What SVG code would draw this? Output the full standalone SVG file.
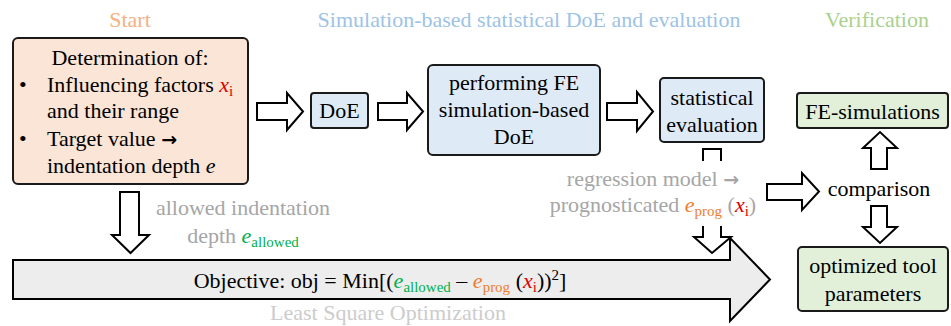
<svg xmlns="http://www.w3.org/2000/svg" width="951" height="326" viewBox="0 0 951 326">
<style>
text{font-family:"Liberation Serif",serif;font-size:22px;fill:#000}
.box{stroke:#1a1a1a;stroke-width:2}
.arr{fill:#fff;stroke:#000;stroke-width:2;stroke-linejoin:miter}
.open{fill:none;stroke:#000;stroke-width:2}
.mid{text-anchor:middle}
.gray{fill:#a6a6a6}
.lgray{fill:#cccccc}
.red{fill:#e00000}
.grn{fill:#00b050}
.org{fill:#ed7d31}
.it{font-style:italic}
.sub{font-size:15px}
.sym{font-family:"DejaVu Sans",sans-serif;font-weight:bold;font-size:19px}
</style>
<rect width="951" height="326" fill="#fff"/>
<g id="titles">
<text x="130" y="27" class="mid" style="fill:#f4b183">Start</text>
<text x="529" y="27" class="mid" style="fill:#9dc3e6">Simulation-based statistical DoE and evaluation</text>
<text x="877" y="27" class="mid" style="fill:#a9d18e">Verification</text>
</g>
<g id="connectors">
<polygon class="arr" points="257,103 287,103 287,93 303,111.5 287,130 287,120 257,120"/>
<polygon class="arr" points="378,103 407,103 407,93 423,111.5 407,130 407,120 378,120"/>
<polygon class="arr" points="607,103 637,103 637,92 653,111.5 637,131 637,120 607,120"/>
<polygon class="arr" points="120,192 139,192 139,235 149,235 130.5,253 112,235 120,235"/>
<polygon class="arr" points="13,260 730,260 730,238 770,279.5 730,321 730,299 13,299" style="fill:#ededed"/>
<path class="open" d="M703,161 V149 H721 V161"/>
<path class="arr" d="M703,226 V237 H694 L712,253 L731,237 H721 V226"/>
<polygon class="arr" points="767,184 802,184 802,173 819,191.5 802,210 802,200 767,200"/>
<polygon class="arr" points="871,169 871,148 863,148 880,132 897,148 887,148 887,169"/>
<polygon class="arr" points="871,206 887,206 887,227 897,227 880,243 863,227 871,227"/>
</g>
<g id="start">
<rect class="box" x="13" y="38" width="235" height="146" rx="5" fill="#fbe5d6"/>
<text x="130" y="65" class="mid">Determination of:</text>
<text x="19" y="92">•</text>
<text x="47" y="92">Influencing factors <tspan class="red it">x</tspan><tspan class="red sub" dy="4">i</tspan></text>
<text x="47" y="118">and their range</text>
<text x="19" y="146">•</text>
<text x="47" y="146">Target value <tspan class="sym">→</tspan></text>
<text x="47" y="173">indentation depth <tspan class="it">e</tspan></text>
</g>
<g id="doe">
<rect class="box" x="311" y="93" width="57" height="35" rx="3" fill="#deebf7"/>
<text x="339.5" y="118" class="mid">DoE</text>
</g>
<g id="fe-doe">
<rect class="box" x="428" y="65" width="172" height="90" rx="5" fill="#deebf7"/>
<text x="514" y="90" class="mid">performing FE</text>
<text x="514" y="117" class="mid">simulation-based</text>
<text x="514" y="144" class="mid">DoE</text>
</g>
<g id="stat">
<rect class="box" x="660" y="78" width="104" height="64" rx="4" fill="#deebf7"/>
<text x="712" y="105" class="mid">statistical</text>
<text x="712" y="132" class="mid">evaluation</text>
</g>
<g id="fe-sim">
<rect class="box" x="797" y="93" width="151" height="35" rx="3" fill="#e2f0d9"/>
<text x="872.5" y="119" class="mid">FE-simulations</text>
</g>
<g id="optimized">
<rect class="box" x="798" y="247" width="150" height="64" rx="4" fill="#e2f0d9"/>
<text x="873" y="273" class="mid">optimized tool</text>
<text x="873" y="301" class="mid">parameters</text>
</g>
<g id="comparison">
<text x="879" y="196" class="mid">comparison</text>
</g>
<g id="labels">
<text x="243" y="215" class="mid gray">allowed indentation</text>
<text x="243" y="243" class="mid gray">depth <tspan class="grn it">e</tspan><tspan class="grn sub" dy="4">allowed</tspan></text>
<text x="653" y="186" class="mid gray">regression model <tspan class="sym">→</tspan></text>
<text x="653" y="212" class="mid gray">prognosticated <tspan class="org it">e</tspan><tspan class="org sub" dy="4">prog</tspan><tspan dy="-4"> (</tspan><tspan class="red it">x</tspan><tspan class="red sub" dy="4">i</tspan><tspan dy="-4">)</tspan></text>
<text x="380" y="288" class="mid">Objective: obj = Min[(<tspan class="grn it">e</tspan><tspan class="grn sub" dy="4">allowed</tspan><tspan dy="-4"> – </tspan><tspan class="org it">e</tspan><tspan class="org sub" dy="4">prog</tspan><tspan dy="-4"> (</tspan><tspan class="red it">x</tspan><tspan class="red sub" dy="4">i</tspan><tspan dy="-4">))</tspan><tspan class="sub" dy="-8">2</tspan><tspan dy="8">]</tspan></text>
<text x="388" y="320" class="mid lgray">Least Square Optimization</text>
</g>
</svg>
